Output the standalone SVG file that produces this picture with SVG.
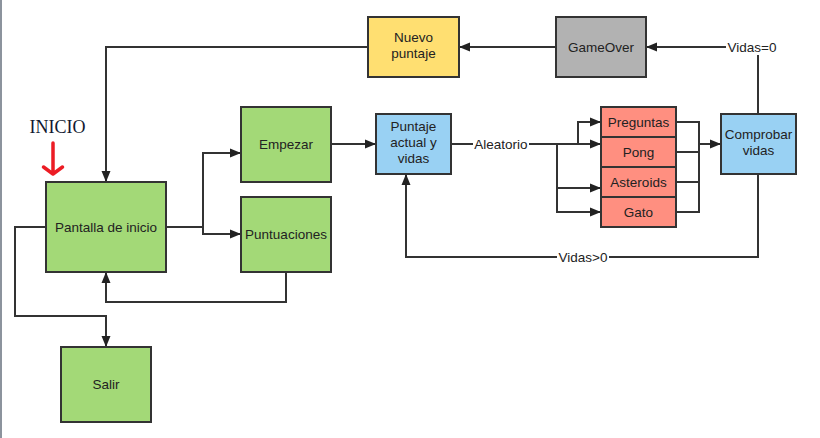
<svg xmlns="http://www.w3.org/2000/svg" width="820" height="438" viewBox="0 0 820 438">
<defs>
<marker id="ah" markerUnits="userSpaceOnUse" markerWidth="12" markerHeight="10" refX="11" refY="5" orient="auto">
<path d="M0,0.5 L11,5 L0,9.5 z" fill="#222"/>
</marker>
<style>
.box{stroke:#333;stroke-width:2}
.g{fill:#a3d977}
.b{fill:#99d1f3}
.r{fill:#ff8f80}
.y{fill:#ffdf71}
.gr{fill:#b2b2b2}
.t{font-family:"Liberation Sans",Arial,sans-serif;font-size:13.5px;fill:#222;text-anchor:middle}
.c{fill:none;stroke:#333;stroke-width:2}
.ca{fill:none;stroke:#333;stroke-width:2;marker-end:url(#ah)}
.lb{fill:#fff}
</style>
</defs>
<rect x="0" y="0" width="820" height="438" fill="#fff"/>
<rect x="0" y="0" width="2" height="438" fill="#8c939d"/>

<g id="connectors">
<path class="ca" d="M368,47 H106 V182"/>
<path class="ca" d="M556,47 H459"/>
<path class="ca" d="M758,114 V47 H646"/>
<path class="ca" d="M166,227 H203 V153 H241"/>
<path class="ca" d="M203,227 V234 H241"/>
<path class="ca" d="M286,272 V302 H106 V272"/>
<path class="ca" d="M46,227 H15 V316 H106 V347"/>
<path class="ca" d="M331,144 H376"/>
<path class="ca" d="M451,144 H601"/>
<path class="ca" d="M578,144 V122 H601"/>
<path class="ca" d="M557,144 V212 H601"/>
<path class="ca" d="M557,188 H601"/>
<path class="c" d="M676,122 H699 M676,152 H699 M676,182 H699 M676,212 H699 M699,121 V213"/>
<path class="ca" d="M699,144 H721"/>
<path class="ca" d="M758,174 V257 H406 V174"/>
<rect class="lb" x="726" y="38" width="53" height="17"/>
<text class="t" x="752" y="51.5">Vidas=0</text>
<rect class="lb" x="473" y="136" width="56" height="16"/>
<text class="t" x="501" y="148.5">Aleatorio</text>
<rect class="lb" x="557" y="249" width="52" height="16"/>
<text class="t" x="583" y="261.5">Vidas&gt;0</text>
</g>

<g id="inicio">
<text x="29.5" y="132.7" font-family="Liberation Serif,'Times New Roman',serif" font-size="18" fill="#101830">INICIO</text>
<path d="M53,143 V172 M43.5,167 L53,174 L62.5,167" fill="none" stroke="#ec1c24" stroke-width="3.5" stroke-linecap="round" stroke-linejoin="round"/>
</g>

<g id="nuevo">
<rect class="box y" x="368" y="17" width="91" height="60"/>
<text class="t" x="413.5" y="42">Nuevo</text>
<text class="t" x="413.5" y="58">puntaje</text>
</g>
<g id="gameover">
<rect class="box gr" x="556" y="17" width="90" height="60"/>
<text class="t" x="601" y="51.5">GameOver</text>
</g>
<g id="pantalla">
<rect class="box g" x="46" y="182" width="120" height="90"/>
<text class="t" x="106" y="231.5">Pantalla de inicio</text>
</g>
<g id="empezar">
<rect class="box g" x="241" y="107" width="90" height="75"/>
<text class="t" x="286" y="149">Empezar</text>
</g>
<g id="puntuaciones">
<rect class="box g" x="241" y="197" width="90" height="75"/>
<text class="t" x="286" y="239">Puntuaciones</text>
</g>
<g id="salir">
<rect class="box g" x="61" y="347" width="90" height="75"/>
<text class="t" x="106" y="389">Salir</text>
</g>
<g id="puntaje">
<rect class="box b" x="376" y="114" width="75" height="60"/>
<text class="t" x="413.5" y="130.5">Puntaje</text>
<text class="t" x="413.5" y="147">actual y</text>
<text class="t" x="413.5" y="163">vidas</text>
</g>
<g id="preguntas">
<rect class="box r" x="601" y="107" width="75" height="30"/>
<text class="t" x="638.5" y="126.5">Preguntas</text>
</g>
<g id="pong">
<rect class="box r" x="601" y="137" width="75" height="30"/>
<text class="t" x="638.5" y="156.5">Pong</text>
</g>
<g id="asteroids">
<rect class="box r" x="601" y="167" width="75" height="30"/>
<text class="t" x="638.5" y="186.5">Asteroids</text>
</g>
<g id="gato">
<rect class="box r" x="601" y="197" width="75" height="30"/>
<text class="t" x="638.5" y="216.5">Gato</text>
</g>
<g id="comprobar">
<rect class="box b" x="721" y="114" width="75" height="60"/>
<text class="t" x="758.5" y="139">Comprobar</text>
<text class="t" x="758.5" y="155">vidas</text>
</g>
</svg>
